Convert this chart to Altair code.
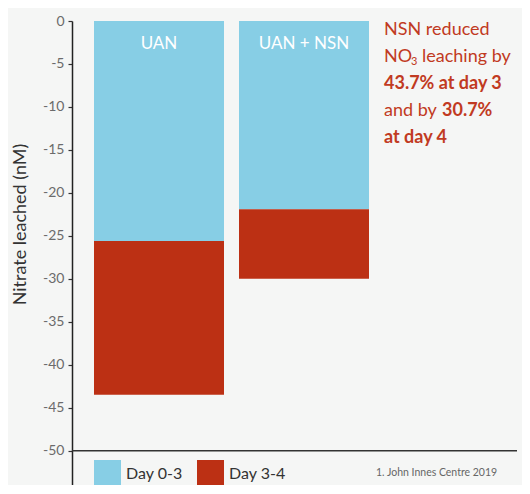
import altair as alt
import pandas as pd

# ---- data ----
treatments = ["UAN", "UAN", "UAN + NSN", "UAN + NSN"]
periods = ["Day 0-3", "Day 3-4", "Day 0-3", "Day 3-4"]
period_order = [0, 1, 0, 1]
values = [-25.6, -17.9, -21.9, -8.1]

bar_names = ["UAN", "UAN + NSN"]
y_ticks = [0, -5, -10, -15, -20, -25, -30, -35, -40, -45, -50]
baseline_value = [-50]

note_plain = ["NSN reduced", "NO", "leaching by", "and by"]
note_bold = ["43.7% at day 3", "30.7%", "at day 4"]
footnote = ["1. John Innes Centre 2019"]

FONT = "Lato"
BLUE = "#87CEE5"
RED = "#BC3014"
TXT_RED = "#C13A22"

df = pd.DataFrame({"treatment": treatments, "period": periods,
                   "ord": period_order, "value": values})

xscale = alt.Scale(domain=bar_names, range=[22, 297], paddingInner=15 / 145, paddingOuter=0)
yscale = alt.Scale(domain=[-54, 0], nice=False, zero=False)

bars = alt.Chart(df).mark_bar(size=130).encode(
    x=alt.X("treatment:N", scale=xscale, axis=None),
    y=alt.Y("value:Q", scale=yscale, stack="zero",
            axis=alt.Axis(values=y_ticks, title="Nitrate leached (nM)", grid=False,
                          labelExpr="'' + datum.value",
                          domainColor="#222", domainWidth=1.5, tickColor="#333",
                          tickSize=4, tickWidth=1.2, labelColor="#6b6b6b",
                          labelFontSize=14, labelFont=FONT, labelPadding=4,
                          titleFont=FONT, titleFontSize=18, titleFontWeight="normal",
                          titleColor="#333", titleX=-52, titleY=203,
                          titleBaseline="middle", titleAlign="center")),
    color=alt.Color("period:N",
                    scale=alt.Scale(domain=["Day 0-3", "Day 3-4"], range=[BLUE, RED]),
                    legend=alt.Legend(title=None, orient="none", legendX=22, legendY=439,
                                      direction="horizontal", symbolType="square",
                                      symbolSize=729, symbolStrokeWidth=0,
                                      symbolOpacity=1, labelFont=FONT, labelFontSize=16,
                                      labelColor="#333", labelOffset=5,
                                      columnPadding=14)),
    order=alt.Order("ord:Q"),
)

labels = alt.Chart(pd.DataFrame({"treatment": bar_names})).mark_text(
    font=FONT, fontSize=17, color="white", baseline="middle"
).encode(x=alt.X("treatment:N", scale=xscale), y=alt.value(23), text="treatment:N")

base_rule = alt.Chart(pd.DataFrame({"v": baseline_value})).mark_rule(
    color="#333", strokeWidth=1.5
).encode(y=alt.Y("v:Q", scale=yscale), x=alt.value(0), x2=alt.value(445))

def note(text, x, y, bold=False, size=18):
    return alt.Chart(pd.DataFrame({"t": [text]})).mark_text(
        font=FONT, fontSize=size, align="left", baseline="middle",
        color=TXT_RED, fontWeight="bold" if bold else "normal"
    ).encode(x=alt.value(x), y=alt.value(y), text="t:N")

notes = [
    note(note_plain[0], 312, 9),
    note(note_plain[1], 312, 36),
    note("3", 339, 41, size=11),
    note(note_plain[2], 350, 36),
    note(note_bold[0], 312, 63, bold=True),
    note(note_plain[3], 312, 90),
    note(note_bold[1], 370, 90, bold=True),
    note(note_bold[2], 312, 117, bold=True),
]

foot = alt.Chart(pd.DataFrame({"t": footnote})).mark_text(
    font=FONT, fontSize=10.5, align="left", baseline="middle", color="#666"
).encode(x=alt.value(304), y=alt.value(452), text="t:N")

chart = alt.layer(bars, labels, base_rule, *notes, foot).properties(
    width=450, height=464,
    autosize=alt.AutoSizeParams(type="none"),
    padding={"left": 64, "top": 13, "right": 0, "bottom": 0},
    background="#F5F6F5",
).configure_view(stroke=None)

chart.save("out.html", embed_options={"renderer": "svg", "actions": False})
